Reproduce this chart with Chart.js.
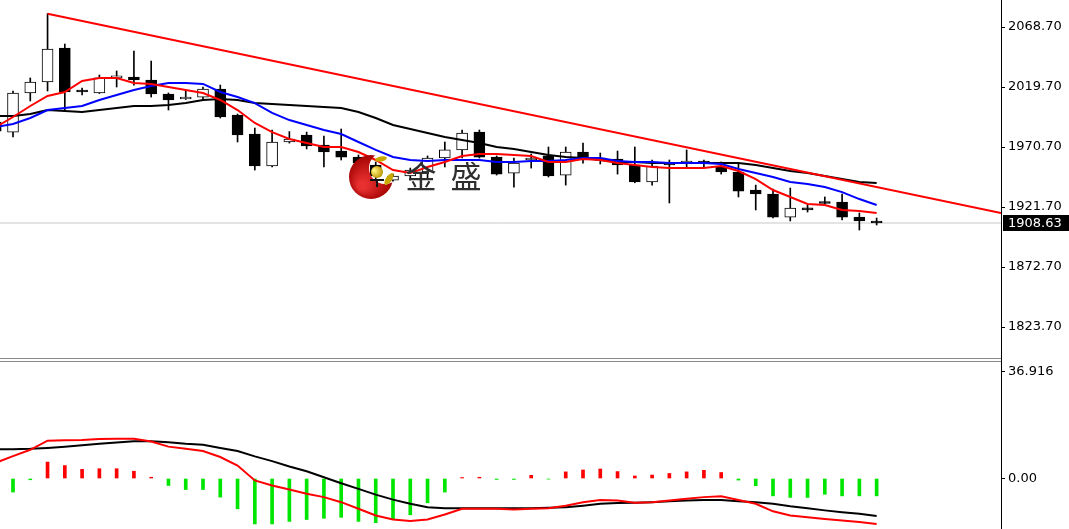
<!DOCTYPE html>
<html>
<head>
<meta charset="utf-8">
<script src="https://cdn.jsdelivr.net/npm/chart.js"></script>
<style>
  body { margin: 0; background: #fff; }
  #wrap { position: relative; width: 1069px; height: 529px; overflow: hidden; background: #fff; }
  #priceChart { position: absolute; left: 0; top: 0; }
  #macdChart { position: absolute; left: 0; top: 362px; }
  .sep { position: absolute; left: 0; top: 358px; width: 1001px; height: 4px; box-sizing: border-box;
         border-top: 1px solid #8a8a8a; border-bottom: 1px solid #8a8a8a; }
  .axisgap { position: absolute; left: 1001px; top: 356px; width: 1px; height: 8px; background: #000; }
</style>
</head>
<body>
<div id="wrap">
  <canvas id="priceChart" width="1069" height="358"></canvas>
  <div class="sep"></div>
  <div class="axisgap"></div>
  <canvas id="macdChart" width="1069" height="167"></canvas>
</div>
<script>
// bar index (position on the time axis)
const bars = [-1, 0, 1, 2, 3, 4, 5, 6, 7, 8, 9, 10, 11, 12, 13, 14, 15, 16, 17, 18, 19, 20,
  21, 22, 23, 24, 25, 26, 27, 28, 29, 30, 31, 32, 33, 34, 35, 36, 37, 38, 39, 40,
  41, 42, 43, 44, 45, 46, 47, 48, 49, 50];

const open = [1991.1, 1982.9, 2014.8, 2023.8, 2051.5, 2016.4, 2014.8, 2027.1, 2027.9, 2025.4, 2014.0, 2009.9,
  2011.5, 2018.1, 1996.8, 1981.3, 1955.2, 1974.8, 1980.5, 1972.3, 1967.4, 1962.5, 1956.0, 1943.7,
  1947.0, 1950.3, 1961.7, 1968.3, 1982.9, 1962.5, 1949.4, 1960.1, 1963.4, 1947.8, 1966.6, 1961.7,
  1960.9, 1956.0, 1942.1, 1956.8, 1957.6, 1958.5, 1954.4, 1950.3, 1935.6, 1932.3, 1913.5, 1920.9,
  1925.0, 1925.8, 1913.5, 1910.3];
const high = [1994.4, 2016.4, 2027.1, 2079.6, 2054.8, 2018.9, 2029.5, 2032.8, 2049.1, 2040.9, 2014.8, 2016.4,
  2019.7, 2021.3, 1997.6, 1986.2, 1984.6, 1983.3, 1982.9, 1979.7, 1985.4, 1964.2, 1958.5, 1948.6,
  1953.5, 1963.4, 1974.8, 1984.6, 1984.6, 1963.4, 1961.7, 1965.0, 1970.7, 1970.7, 1973.9, 1965.8,
  1967.4, 1970.7, 1960.1, 1960.1, 1968.3, 1960.1, 1958.5, 1956.8, 1939.6, 1936.4, 1937.2, 1923.3,
  1929.9, 1932.3, 1916.8, 1912.7];
const low = [1982.1, 1978.9, 2008.3, 2016.4, 2000.9, 2013.2, 2014.4, 2019.7, 2021.3, 2011.5, 2000.9, 2009.5,
  2009.1, 1994.4, 1974.8, 1951.9, 1954.4, 1973.9, 1969.1, 1954.4, 1960.1, 1956.0, 1943.7, 1942.9,
  1943.7, 1945.4, 1954.4, 1961.7, 1961.7, 1947.8, 1938.0, 1953.5, 1946.2, 1939.6, 1957.6, 1956.8,
  1948.6, 1941.5, 1939.6, 1925.0, 1954.4, 1954.4, 1948.6, 1929.9, 1919.3, 1912.7, 1910.3, 1917.6,
  1924.2, 1911.1, 1902.9, 1907.0];
const close = [1983.7, 2014.8, 2023.8, 2050.7, 2015.6, 2015.6, 2027.1, 2027.9, 2025.4, 2014.0, 2009.1, 2011.5,
  2018.1, 1995.2, 1980.5, 1955.2, 1974.8, 1977.2, 1971.5, 1966.6, 1962.5, 1957.6, 1947.0, 1947.0,
  1951.9, 1961.7, 1968.3, 1982.1, 1962.5, 1948.6, 1957.6, 1961.7, 1947.0, 1966.6, 1961.7, 1960.1,
  1956.0, 1942.1, 1955.2, 1956.0, 1958.5, 1957.6, 1950.3, 1934.7, 1932.3, 1913.5, 1920.9, 1919.3,
  1924.6, 1913.5, 1910.3, 1908.63];

// moving averages (red fast, blue mid, black slow)
const maFast = [1987.0, 1995.2, 2004.2, 2012.4, 2015.6, 2024.6, 2027.1, 2027.1, 2023.0, 2022.2, 2019.7, 2017.3,
  2014.8, 2009.1, 2000.9, 1990.3, 1982.9, 1977.2, 1973.9, 1970.7, 1970.7, 1966.6, 1960.1, 1951.9,
  1949.4, 1954.4, 1958.5, 1963.4, 1965.0, 1965.0, 1964.2, 1963.4, 1958.5, 1958.5, 1960.9, 1960.1,
  1957.6, 1956.0, 1954.4, 1953.5, 1953.5, 1953.5, 1955.2, 1951.1, 1944.5, 1935.6, 1929.9, 1924.2,
  1923.3, 1919.3, 1918.5, 1916.8];
const maMid = [1987.0, 1989.5, 1994.4, 2000.9, 2002.5, 2004.2, 2009.1, 2013.2, 2017.3, 2020.5, 2023.0, 2023.0,
  2022.2, 2015.6, 2011.5, 2006.6, 1998.5, 1992.7, 1988.7, 1984.6, 1981.3, 1974.8, 1968.3, 1962.5,
  1960.1, 1959.3, 1960.1, 1960.1, 1960.1, 1958.5, 1958.5, 1959.3, 1959.3, 1960.1, 1961.7, 1961.7,
  1959.3, 1958.5, 1958.5, 1957.6, 1957.6, 1957.6, 1956.8, 1952.7, 1949.4, 1946.2, 1942.1, 1940.5,
  1938.0, 1933.9, 1928.2, 1923.3];
const maSlow = [1996.0, 1996.0, 1997.6, 2000.9, 2000.1, 1999.3, 2000.9, 2002.5, 2004.2, 2004.2, 2005.0, 2006.6,
  2009.1, 2009.9, 2009.1, 2006.6, 2005.8, 2005.0, 2004.2, 2003.4, 2002.5, 1999.3, 1994.4, 1988.7,
  1985.4, 1982.1, 1978.9, 1976.4, 1973.9, 1970.7, 1969.1, 1966.6, 1964.2, 1962.5, 1961.7, 1960.1,
  1958.5, 1958.5, 1957.6, 1957.6, 1957.6, 1957.6, 1957.6, 1957.6, 1956.0, 1953.5, 1951.1, 1949.4,
  1947.0, 1944.5, 1942.1, 1941.3];

// trend line: from the high of bar 2 to the right edge
const trendX = [2, 57.2];
const trendY = [2079.6, 1916.8];
const lastPrice = 1908.63;

const priceTicks = [2068.70, 2019.70, 1970.70, 1921.70, 1872.70, 1823.70];

// MACD panel
const macdHist = [null, -4.3, -0.4, 5.2, 4.1, 2.9, 3.1, 3.1, 2.3, 0.4, -2.2, -3.5,
  -3.5, -5.9, -9.6, -14.4, -14.4, -13.6, -13.0, -12.6, -12.3, -13.6, -14.0, -12.8,
  -11.5, -7.7, -4.3, 0.3, 0.4, -0.3, -0.3, 1.0, -0.2, 2.1, 2.7, 3.0,
  2.2, 0.8, 1.1, 1.6, 2.1, 2.6, 1.9, -0.5, -2.3, -5.5, -6.0, -6.0,
  -5.0, -5.5, -5.5, -5.5];
const macdBlack = [9.3, 9.3, 9.4, 9.7, 10.1, 10.5, 11.0, 11.4, 11.8, 11.8, 11.5, 11.0,
  10.7, 9.7, 8.7, 7.0, 5.5, 3.8, 2.3, 0.4, -1.5, -3.3, -5.1, -6.7,
  -8.0, -9.1, -9.4, -9.4, -9.4, -9.4, -9.4, -9.4, -9.3, -9.1, -8.6, -8.0,
  -7.8, -7.7, -7.5, -7.2, -7.0, -6.8, -6.8, -7.2, -7.5, -8.0, -8.8, -9.4,
  -10.1, -10.7, -11.2, -11.9];
const macdRed = [5.0, 7.1, 9.1, 12.0, 12.1, 12.2, 12.5, 12.6, 12.6, 11.7, 10.1, 9.4,
  8.7, 6.8, 4.1, -0.6, -2.2, -3.5, -4.8, -5.9, -7.5, -9.6, -11.7, -13.0,
  -13.5, -13.0, -11.4, -9.6, -9.6, -9.6, -9.8, -9.6, -9.4, -8.6, -7.5, -6.8,
  -7.0, -7.7, -7.5, -7.0, -6.4, -5.9, -5.6, -6.8, -8.0, -10.4, -11.7, -12.3,
  -12.8, -13.3, -13.8, -14.4];
const subMax = 36.916;
const subTickLabels = ['36.916', '0.00'];

const xMin = -0.753, xMax = 57.2;
const axisFont = { family: 'DejaVu Sans', size: 13 };

function pts(arr) {
  return bars.map((x, k) => ({ x: x, y: arr[k] }));
}

function fixAxis(scale) {
  scale.width = 68;
  scale.paddingTop = 0;
  scale.paddingBottom = 0;
}

// last price tag on the axis
const lastPriceTag = {
  id: 'lastPriceTag',
  afterDraw(chart) {
    const c = chart.ctx;
    const y = Math.round(chart.scales.y.getPixelForValue(lastPrice));
    const left = chart.chartArea.right + 2;
    c.save();
    c.fillStyle = '#000';
    c.fillRect(left, y - 8, 1069 - left, 16);
    c.fillStyle = '#fff';
    c.font = '13px "DejaVu Sans"';
    c.textBaseline = 'middle';
    c.fillText(lastPrice.toFixed(2), left + 5, y + 1);
    c.restore();
  }
};

// watermark logo
const logo = {
  id: 'logo',
  afterDatasetsDraw(chart) {
    const c = chart.ctx;
    c.save();
    c.beginPath();
    c.arc(371, 177, 22, 0, Math.PI * 2);
    c.clip();
    const g = c.createRadialGradient(362, 186, 4, 371, 177, 24);
    g.addColorStop(0, '#e83030');
    g.addColorStop(1, '#a00000');
    c.beginPath();
    c.rect(340, 145, 70, 70);
    c.arc(385, 168, 16, 0, Math.PI * 2, true);
    c.fillStyle = g;
    c.fill();
    c.restore();

    c.save();
    const gb = c.createRadialGradient(374, 170, 1, 376, 172, 7);
    gb.addColorStop(0, '#fff27a');
    gb.addColorStop(1, '#b89400');
    c.fillStyle = gb;
    c.beginPath();
    c.arc(377, 172, 6, 0, Math.PI * 2);
    c.fill();
    c.fillStyle = '#c9a800';
    c.beginPath();
    c.ellipse(389, 179, 3, 7, 0.6, 0, Math.PI * 2);
    c.fill();
    c.beginPath();
    c.ellipse(381, 159, 6, 2.5, -0.2, 0, Math.PI * 2);
    c.fill();
    c.fillStyle = '#111';
    c.fillRect(370, 179, 14, 2);
    c.fillRect(376, 179, 2, 8);
    c.fillStyle = '#2e2e2e';
    c.font = '31px "Noto Sans CJK SC"';
    c.textAlign = 'center';
    c.textBaseline = 'middle';
    c.fillText('金', 421, 176);
    c.fillText('盛', 466, 176);
    c.restore();
  }
};

const priceChart = new Chart(document.getElementById('priceChart'), {
  type: 'bar',
  data: {
    datasets: [
      {
        type: 'line',
        data: [{ x: xMin - 1, y: lastPrice }, { x: xMax + 1, y: lastPrice }],
        borderColor: '#c8c8c8',
        borderWidth: 1,
        pointRadius: 0,
        order: 9
      },
      {
        // wicks
        data: bars.map((x, k) => ({ x: x, y: [low[k], high[k]] })),
        backgroundColor: '#000',
        barThickness: 1,
        grouped: false,
        order: 8
      },
      {
        // bodies
        data: bars.map((x, k) => ({ x: x, y: [open[k], close[k]] })),
        backgroundColor: close.map((c, k) => c >= open[k] ? '#fff' : '#000'),
        borderColor: '#000',
        borderWidth: 1,
        borderSkipped: false,
        barThickness: 11,
        minBarLength: 2,
        grouped: false,
        order: 7
      },
      { type: 'line', data: pts(maSlow), borderColor: '#000', borderWidth: 2, pointRadius: 0, order: 4 },
      { type: 'line', data: pts(maMid), borderColor: '#0000ff', borderWidth: 2, pointRadius: 0, order: 3 },
      { type: 'line', data: pts(maFast), borderColor: '#ff0000', borderWidth: 2, pointRadius: 0, order: 2 },
      {
        type: 'line',
        data: trendX.map((x, k) => ({ x: x, y: trendY[k] })),
        borderColor: '#ff0000',
        borderWidth: 2,
        pointRadius: 0,
        order: 1
      }
    ]
  },
  options: {
    responsive: false,
    animation: false,
    layout: { padding: 0 },
    plugins: { legend: { display: false }, tooltip: { enabled: false } },
    scales: {
      x: { type: 'linear', min: xMin, max: xMax, offset: false, display: false },
      y: {
        position: 'right',
        min: 1798.4,
        max: 2090.75,
        beginAtZero: false,
        afterBuildTicks: (s) => { s.ticks = priceTicks.map(v => ({ value: v })); },
        afterFit: fixAxis,
        grid: { drawOnChartArea: false, drawTicks: true, tickLength: 4, color: '#000' },
        border: { display: true, color: '#000', width: 1 },
        ticks: {
          color: '#000',
          font: axisFont,
          padding: 3,
          callback: (v) => Number(v).toFixed(2)
        }
      }
    }
  },
  plugins: [lastPriceTag, logo]
});

const macdChart = new Chart(document.getElementById('macdChart'), {
  type: 'bar',
  data: {
    datasets: [
      {
        data: pts(macdHist),
        backgroundColor: macdHist.map(v => v >= 0 ? '#ff0000' : '#00e600'),
        barThickness: 3,
        grouped: false,
        order: 5
      },
      { type: 'line', data: pts(macdBlack), borderColor: '#000', borderWidth: 2, pointRadius: 0, order: 2 },
      { type: 'line', data: pts(macdRed), borderColor: '#ff0000', borderWidth: 2, pointRadius: 0, order: 1 }
    ]
  },
  options: {
    responsive: false,
    animation: false,
    layout: { padding: 0 },
    plugins: { legend: { display: false }, tooltip: { enabled: false } },
    scales: {
      x: { type: 'linear', min: xMin, max: xMax, offset: false, display: false },
      y: {
        position: 'right',
        min: -16.0,
        max: subMax,
        beginAtZero: false,
        // top label sits just under the panel edge, like the terminal draws it
        afterBuildTicks: (s) => { s.ticks = [{ value: subMax - 2.9 }, { value: 0 }]; },
        afterFit: fixAxis,
        grid: { drawOnChartArea: false, drawTicks: true, tickLength: 4, color: '#000' },
        border: { display: true, color: '#000', width: 1 },
        ticks: {
          color: '#000',
          font: axisFont,
          padding: 3,
          callback: (v, i) => subTickLabels[i]
        }
      }
    }
  }
});
</script>
</body>
</html>
